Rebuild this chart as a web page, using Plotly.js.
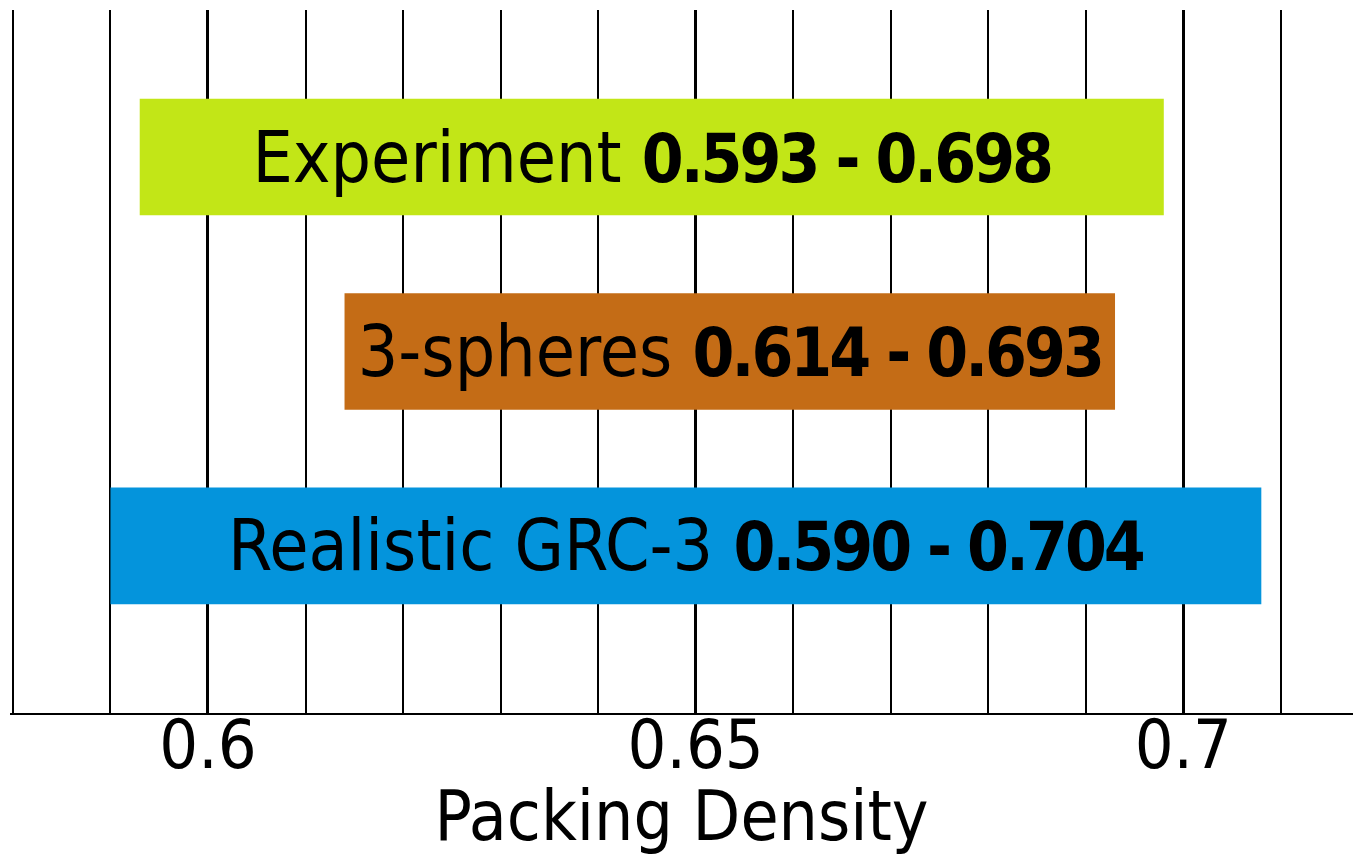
<!DOCTYPE html>
<html>
<head>
<meta charset="utf-8">
<script src="https://cdn.plot.ly/plotly-3.0.1.min.js"></script>
<style>html,body{margin:0;padding:0;background:#fff;}#chart{width:1353px;height:856px;}</style>
</head>
<body>
<div id="chart"></div>
<script>
// Data
const categories = ['Realistic GRC-3', '3-spheres', 'Experiment'];
const rangeLow = [0.590, 0.614, 0.593];
const rangeHigh = [0.708, 0.693, 0.698];
const labelLow = ['0.590', '0.614', '0.593'];
const labelHigh = ['0.704', '0.693', '0.698'];
const barColors = ['#0494dc', '#c46c16', '#c2e617'];
const tickValues = [0.6, 0.65, 0.7];
const tickLabels = ['0.6', '0.65', '0.7'];

const FONT = 'DejaVu Sans Condensed, DejaVu Sans, sans-serif';

const trace = {
  type: 'bar',
  orientation: 'h',
  y: categories,
  base: rangeLow,
  x: rangeHigh.map((h, i) => h - rangeLow[i]),
  width: 0.6,
  marker: {color: barColors, line: {width: 0}},
  text: categories.map((c, i) => c + ' <span style="letter-spacing:-3px;font-size:67px"><b>' + labelLow[i] + ' - ' + labelHigh[i] + '</b></span>'),
  textposition: 'inside',
  insidetextanchor: 'middle',
  constraintext: 'none',
  textangle: 0,
  textfont: {family: FONT, size: 71, color: '#000'},
  hoverinfo: 'none'
};

const layout = {
  width: 1353,
  height: 856,
  margin: {l: 10, r: 0, t: 10, b: 143},
  paper_bgcolor: '#fff',
  plot_bgcolor: '#fff',
  showlegend: false,
  font: {family: FONT, color: '#000'},
  xaxis: {
    range: [0.5797, 0.7174],
    tickvals: tickValues,
    ticktext: tickLabels,
    ticks: '',
    tickfont: {family: FONT, size: 68, color: '#000'},
    showgrid: true,
    gridcolor: '#000',
    gridwidth: 3,
    minor: {dtick: 0.01, tick0: 0.58, showgrid: true, gridcolor: '#000', gridwidth: 2, ticks: ''},
    showline: true,
    linecolor: '#000',
    linewidth: 2,
    zeroline: false,
    ticklabelstandoff: -29,
    title: {text: 'Packing Density', font: {family: FONT, size: 69, color: '#000'}, standoff: 7}
  },
  yaxis: {
    type: 'category',
    range: [-0.859, 2.756],
    showticklabels: false,
    showgrid: false,
    zeroline: false,
    showline: false,
    ticks: ''
  }
};

Plotly.newPlot('chart', [trace], layout, {displayModeBar: false, staticPlot: true});
</script>
</body>
</html>
